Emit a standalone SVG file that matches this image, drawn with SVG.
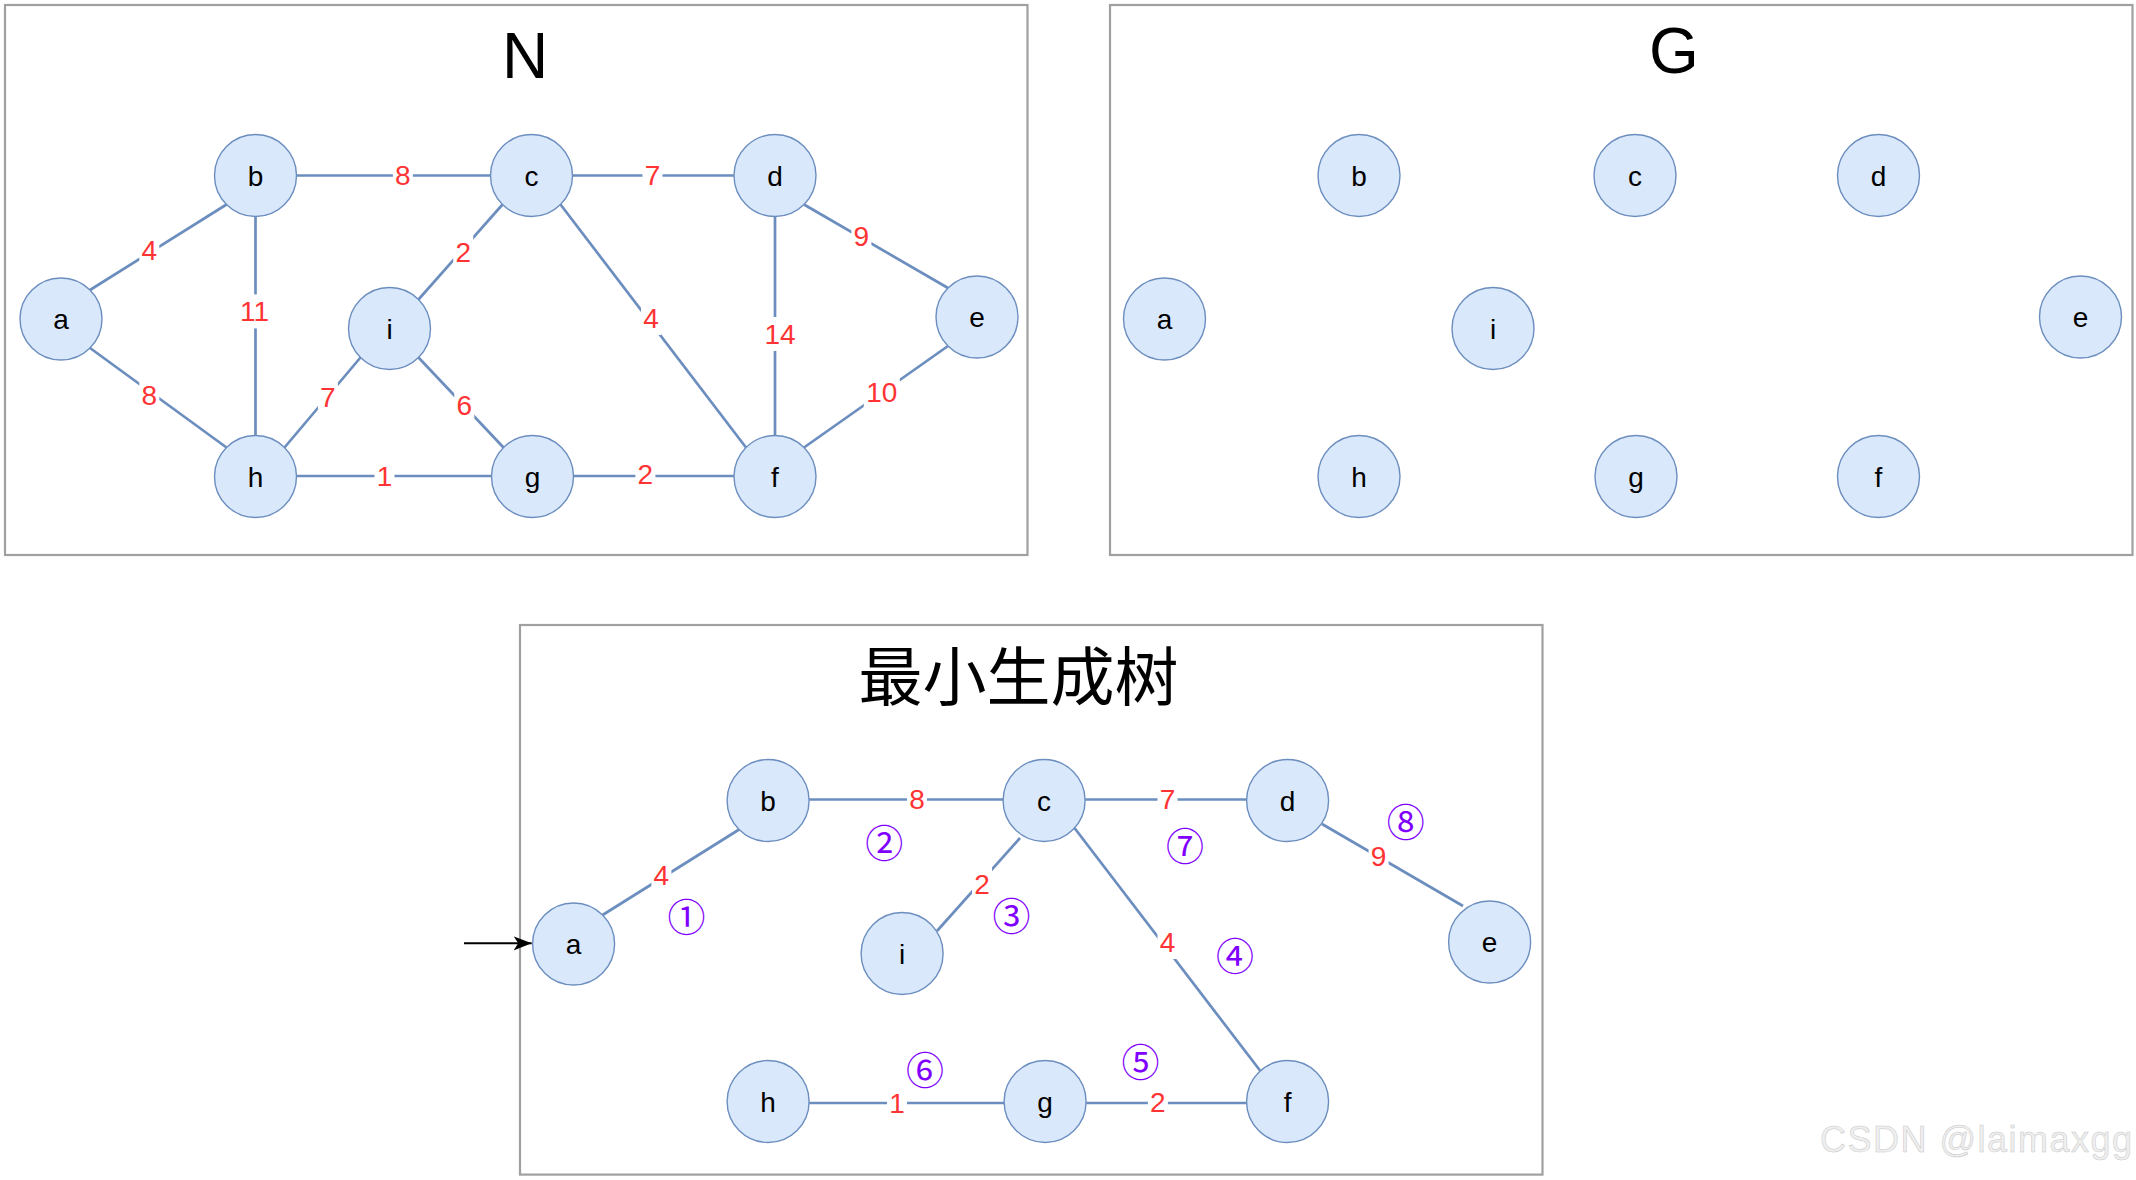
<svg xmlns="http://www.w3.org/2000/svg" width="2136" height="1180" viewBox="0 0 2136 1180">
<defs>
<style>
.panel{fill:#fff;stroke:#a0a0a0;stroke-width:2.2}
.title{font-family:"Liberation Sans",Arial,sans-serif;font-size:64px;fill:#000;text-anchor:middle}
.cjk{font-family:"Liberation Sans","Noto Sans CJK SC",sans-serif;font-size:64px;fill:#000;text-anchor:middle}
.node circle{fill:#dae8fc;stroke:#6c8ebf;stroke-width:1.4}
.node text{font-family:"Liberation Sans",Arial,sans-serif;font-size:28px;fill:#000;text-anchor:middle}
.edge line{stroke:#6c8ebf;stroke-width:2.7;fill:none}
.lbl rect{fill:#fff;stroke:none}
.lbl text{font-family:"Liberation Sans",Arial,sans-serif;font-size:28px;fill:#ff3333;text-anchor:middle}
.step{font-family:"Noto Sans CJK SC",sans-serif;font-size:38px;fill:#7f00ff;text-anchor:middle}
.wm{font-family:"Liberation Sans",Arial,sans-serif;font-size:36px;fill:#efefef;stroke:#c8c8c8;stroke-width:0.5}
</style>
<marker id="arr" markerUnits="userSpaceOnUse" markerWidth="20" markerHeight="16" refX="18" refY="7" orient="auto">
<path d="M0,0 L18,7 L0,14 L4.5,7 Z" fill="#000"/>
</marker>
</defs>
<rect x="0" y="0" width="2136" height="1180" fill="#fff"/>

<!-- Panel N -->
<g id="panel-N">
<rect class="panel" x="5" y="5" width="1022.5" height="550"/>
<text class="title" x="525" y="78">N</text>
</g>
<g id="connectors-N" class="edge">
<line x1="90" y1="290" x2="226.5" y2="204.5"/>
<line x1="90" y1="348" x2="226.5" y2="447.5"/>
<line x1="255.5" y1="216.5" x2="255.5" y2="435.5"/>
<line x1="296.5" y1="175.5" x2="490.5" y2="175.5"/>
<line x1="502.5" y1="204.5" x2="418.5" y2="299.5"/>
<line x1="284.5" y1="447.5" x2="360.5" y2="357.5"/>
<line x1="418.5" y1="357.5" x2="503.5" y2="447.5"/>
<line x1="296.5" y1="476" x2="491.5" y2="476"/>
<line x1="572.5" y1="175.5" x2="734" y2="175.5"/>
<line x1="560.5" y1="204.5" x2="746" y2="447.5"/>
<line x1="804" y1="204.5" x2="948" y2="288"/>
<line x1="775" y1="216.5" x2="775" y2="435.5"/>
<line x1="948" y1="346" x2="804" y2="447.5"/>
<line x1="573.5" y1="476" x2="734" y2="476"/>
<g class="lbl"><rect x="139.3" y="233" width="20" height="34"/><text x="149.3" y="260">4</text></g>
<g class="lbl"><rect x="236.5" y="294.4" width="36" height="34"/><text x="254.5" y="321.4">11</text></g>
<g class="lbl"><rect x="139.3" y="377.6" width="20" height="34"/><text x="149.3" y="404.6">8</text></g>
<g class="lbl"><rect x="317.9" y="380" width="20" height="34"/><text x="327.9" y="407">7</text></g>
<g class="lbl"><rect x="454.3" y="388.4" width="20" height="34"/><text x="464.3" y="415.4">6</text></g>
<g class="lbl"><rect x="453.2" y="234.8" width="20" height="34"/><text x="463.2" y="261.8">2</text></g>
<g class="lbl"><rect x="392.9" y="158.4" width="20" height="34"/><text x="402.9" y="185.4">8</text></g>
<g class="lbl"><rect x="374.5" y="459.4" width="20" height="34"/><text x="384.5" y="486.4">1</text></g>
<g class="lbl"><rect x="642.5" y="158.4" width="20" height="34"/><text x="652.5" y="185.4">7</text></g>
<g class="lbl"><rect x="851.4" y="219.4" width="20" height="34"/><text x="861.4" y="246.4">9</text></g>
<g class="lbl"><rect x="641" y="301" width="20" height="34"/><text x="651" y="328">4</text></g>
<g class="lbl"><rect x="762" y="317" width="36" height="34"/><text x="780" y="344">14</text></g>
<g class="lbl"><rect x="863.8" y="374.8" width="36" height="34"/><text x="881.8" y="401.8">10</text></g>
<g class="lbl"><rect x="635.4" y="457.3" width="20" height="34"/><text x="645.4" y="484.3">2</text></g>
</g>
<g id="N-a" class="node"><circle cx="61" cy="319" r="41"/><text x="61" y="329">a</text></g>
<g id="N-b" class="node"><circle cx="255.5" cy="175.5" r="41"/><text x="255.5" y="185.5">b</text></g>
<g id="N-c" class="node"><circle cx="531.5" cy="175.5" r="41"/><text x="531.5" y="185.5">c</text></g>
<g id="N-d" class="node"><circle cx="775" cy="175.5" r="41"/><text x="775" y="185.5">d</text></g>
<g id="N-e" class="node"><circle cx="977" cy="317" r="41"/><text x="977" y="327">e</text></g>
<g id="N-f" class="node"><circle cx="775" cy="476.5" r="41"/><text x="775" y="486.5">f</text></g>
<g id="N-g" class="node"><circle cx="532.5" cy="476.5" r="41"/><text x="532.5" y="486.5">g</text></g>
<g id="N-h" class="node"><circle cx="255.5" cy="476.5" r="41"/><text x="255.5" y="486.5">h</text></g>
<g id="N-i" class="node"><circle cx="389.5" cy="328.5" r="41"/><text x="389.5" y="338.5">i</text></g>

<!-- Panel G -->
<g id="panel-G">
<rect class="panel" x="1110" y="5" width="1022.5" height="550"/>
<text class="title" x="1674" y="72.5">G</text>
</g>
<g id="G-a" class="node"><circle cx="1164.5" cy="319" r="41"/><text x="1164.5" y="329">a</text></g>
<g id="G-b" class="node"><circle cx="1359" cy="175.5" r="41"/><text x="1359" y="185.5">b</text></g>
<g id="G-c" class="node"><circle cx="1635" cy="175.5" r="41"/><text x="1635" y="185.5">c</text></g>
<g id="G-d" class="node"><circle cx="1878.5" cy="175.5" r="41"/><text x="1878.5" y="185.5">d</text></g>
<g id="G-e" class="node"><circle cx="2080.5" cy="317" r="41"/><text x="2080.5" y="327">e</text></g>
<g id="G-f" class="node"><circle cx="1878.5" cy="476.5" r="41"/><text x="1878.5" y="486.5">f</text></g>
<g id="G-g" class="node"><circle cx="1636" cy="476.5" r="41"/><text x="1636" y="486.5">g</text></g>
<g id="G-h" class="node"><circle cx="1359" cy="476.5" r="41"/><text x="1359" y="486.5">h</text></g>
<g id="G-i" class="node"><circle cx="1493" cy="328.5" r="41"/><text x="1493" y="338.5">i</text></g>

<!-- Panel MST -->
<g id="panel-MST">
<rect class="panel" x="520" y="625" width="1022.5" height="549.6"/>
<text class="cjk" x="1018.5" y="700">最小生成树</text>
</g>
<g id="connectors-MST" class="edge">
<line x1="464" y1="943.3" x2="531.7" y2="943.3" style="stroke:#000;stroke-width:2" marker-end="url(#arr)"/>
<line x1="602.6" y1="915" x2="739.1" y2="829.5"/>
<line x1="809.1" y1="799.5" x2="1003.1" y2="799.5"/>
<line x1="1085.1" y1="799.5" x2="1246.6" y2="799.5"/>
<line x1="1020" y1="838" x2="937" y2="931"/>
<line x1="1074.5" y1="828" x2="1260" y2="1070.5"/>
<line x1="1322" y1="824" x2="1463" y2="906"/>
<line x1="809.1" y1="1103" x2="1004.1" y2="1103"/>
<line x1="1086.1" y1="1103" x2="1246.6" y2="1103"/>
<g class="lbl"><rect x="651.4" y="857.6" width="20" height="34"/><text x="661.4" y="884.6">4</text></g>
<g class="lbl"><rect x="907" y="781.6" width="20" height="34"/><text x="917" y="808.6">8</text></g>
<g class="lbl"><rect x="1157.5" y="781.6" width="20" height="34"/><text x="1167.5" y="808.6">7</text></g>
<g class="lbl"><rect x="972" y="867" width="20" height="34"/><text x="982" y="894">2</text></g>
<g class="lbl"><rect x="1157.5" y="925" width="20" height="34"/><text x="1167.5" y="952">4</text></g>
<g class="lbl"><rect x="1368.6" y="838.7" width="20" height="34"/><text x="1378.6" y="865.7">9</text></g>
<g class="lbl"><rect x="887" y="1086" width="20" height="34"/><text x="897" y="1113">1</text></g>
<g class="lbl"><rect x="1147.9" y="1085" width="20" height="34"/><text x="1157.9" y="1112">2</text></g>
</g>
<g id="MST-a" class="node"><circle cx="573.6" cy="944" r="41"/><text x="573.6" y="954">a</text></g>
<g id="MST-b" class="node"><circle cx="768.1" cy="800.5" r="41"/><text x="768.1" y="810.5">b</text></g>
<g id="MST-c" class="node"><circle cx="1044.1" cy="800.5" r="41"/><text x="1044.1" y="810.5">c</text></g>
<g id="MST-d" class="node"><circle cx="1287.6" cy="800.5" r="41"/><text x="1287.6" y="810.5">d</text></g>
<g id="MST-e" class="node"><circle cx="1489.6" cy="942" r="41"/><text x="1489.6" y="952">e</text></g>
<g id="MST-f" class="node"><circle cx="1287.6" cy="1101.5" r="41"/><text x="1287.6" y="1111.5">f</text></g>
<g id="MST-g" class="node"><circle cx="1045.1" cy="1101.5" r="41"/><text x="1045.1" y="1111.5">g</text></g>
<g id="MST-h" class="node"><circle cx="768.1" cy="1101.5" r="41"/><text x="768.1" y="1111.5">h</text></g>
<g id="MST-i" class="node"><circle cx="902.1" cy="953.5" r="41"/><text x="902.1" y="963.5">i</text></g>
<g id="steps">
<text class="step" x="686.4" y="930.9">①</text>
<text class="step" x="884.3" y="856.5">②</text>
<text class="step" x="1011.4" y="930.2">③</text>
<text class="step" x="1235" y="969.5">④</text>
<text class="step" x="1140.4" y="1076.3">⑤</text>
<text class="step" x="925" y="1083.5">⑥</text>
<text class="step" x="1185" y="859.5">⑦</text>
<text class="step" x="1405.7" y="836.3">⑧</text>
</g>
<text class="wm" x="1820" y="1152" textLength="312" lengthAdjust="spacing">CSDN @laimaxgg</text>
</svg>
